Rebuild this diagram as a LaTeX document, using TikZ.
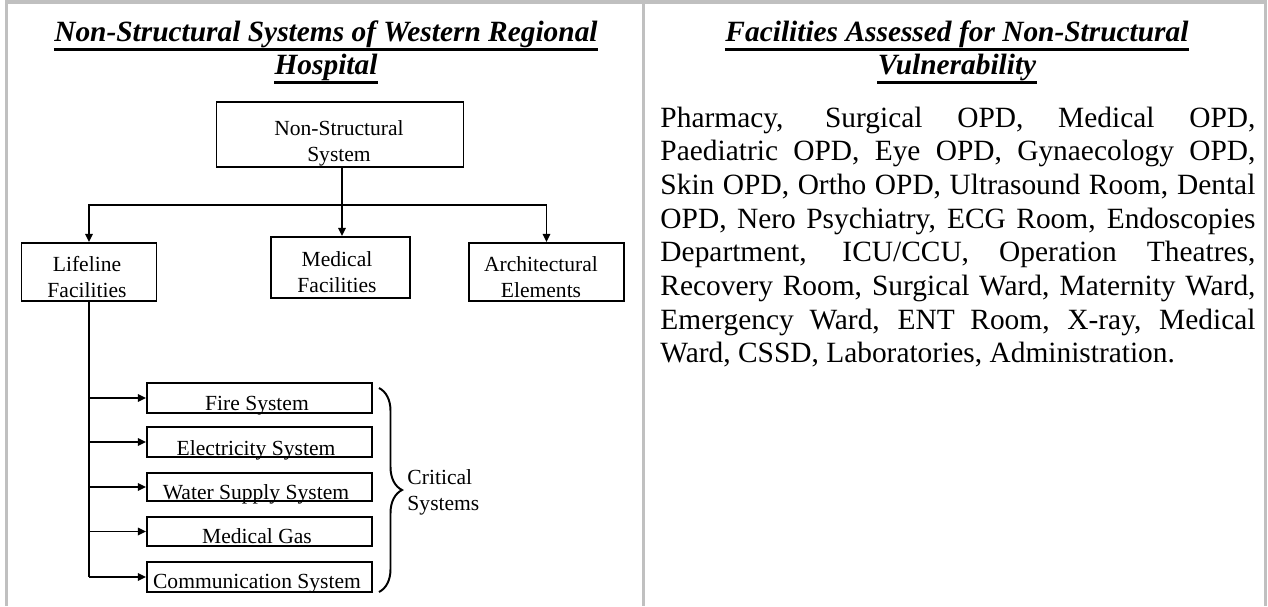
\documentclass[tikz,border=0pt]{standalone}
\usepackage{fontspec}
\setmainfont{Liberation Serif}
\usetikzlibrary{arrows.meta,decorations.pathreplacing}
\definecolor{framegray}{RGB}{192,192,192}
\def\u{0.4082pt}
\begin{document}
\begin{tikzpicture}[x=0.4082pt,y=-0.4082pt,
  frame/.style={draw=framegray, line width=1.25pt},
  box/.style={draw, line width=0.8pt, inner sep=0pt},
  lbl/.style={font=\fontsize{8.8}{10}\selectfont, inner sep=0pt, anchor=base},
  ttl/.style={font=\fontsize{12}{14}\selectfont\bfseries\itshape, inner sep=0pt, anchor=base},
  body/.style={font=\fontsize{12}{13.75}\selectfont, text width=595*\u, align=justify, inner sep=0pt},
  uline/.style={line width=0.9pt},
  conn/.style={line width=0.8pt},
  arr/.style={conn, -{Triangle[length=3.3pt,width=3pt]}},
  bracestyle/.style={line width=0.8pt, decorate, decoration={brace, amplitude=9.4pt, aspect=0.5}},
]
\useasboundingbox (0,0) rectangle (1268,606);

% table frame
\draw[frame] (5,2) -- (1267,2);
\draw[frame] (6.5,0.5) -- (6.5,606);
\draw[frame] (643.5,0.5) -- (643.5,606);
\draw[frame] (1265.5,0.5) -- (1265.5,606);

% left title
\node[ttl] (lt1) at (326,41) {Non-Structural Systems of Western Regional};
\node[ttl] (lt2) at (326,74) {Hospital};
\draw[uline] ([yshift=-3.5pt]lt1.base west) -- ([yshift=-3.5pt]lt1.base east);
\draw[uline] ([yshift=-3.5pt]lt2.base west) -- ([yshift=-3.5pt]lt2.base east);

% right title
\node[ttl] (rt1) at (957,41) {Facilities Assessed for Non-Structural};
\node[ttl] (rt2) at (957,74) {Vulnerability};
\draw[uline] ([yshift=-3.5pt]rt1.base west) -- ([yshift=-3.5pt]rt1.base east);
\draw[uline] ([yshift=-3.5pt]rt2.base west) -- ([yshift=-3.5pt]rt2.base east);

% right body text
\node[body, anchor=base west] (list) at (660,127) {\parindent=0pt\hyphenpenalty=10000\tolerance=10000
Pharmacy, Surgical OPD, Medical OPD,\linebreak
Paediatric OPD, Eye OPD, Gynaecology OPD,\linebreak
Skin OPD, Ortho OPD, Ultrasound Room, Dental\linebreak
OPD, Nero Psychiatry, ECG Room, Endoscopies\linebreak
Department, ICU/CCU, Operation Theatres,\linebreak
Recovery Room, Surgical Ward, Maternity Ward,\linebreak
Emergency Ward, ENT Room, X-ray, Medical\linebreak
Ward, CSSD, Laboratories, Administration.};

% diagram boxes
\node[box, minimum width=247*\u, minimum height=65*\u] (nss) at (340,134.5) {};
\node[box, minimum width=135*\u, minimum height=58*\u] (life) at (89,272) {};
\node[box, minimum width=139*\u, minimum height=61*\u] (med) at (340.5,267.5) {};
\node[box, minimum width=155*\u, minimum height=58*\u] (arch) at (546.5,272) {};
\node[box, minimum width=225*\u, minimum height=30*\u] (fire) at (259.5,398) {};
\node[box, minimum width=225*\u, minimum height=30*\u] (elec) at (259.5,442) {};
\node[box, minimum width=225*\u, minimum height=28*\u] (water) at (259.5,487) {};
\node[box, minimum width=225*\u, minimum height=29*\u] (gas) at (259.5,531.5) {};
\node[box, minimum width=225*\u, minimum height=30*\u] (comm) at (259.5,577) {};

% box labels
\node[lbl] (nssa) at (339,135) {Non-Structural};
\node[lbl] (nssb) at (339,161) {System};
\node[lbl] (lifea) at (87,271) {Lifeline};
\node[lbl] (lifeb) at (87,297.5) {Facilities};
\node[lbl] (meda) at (337,266.5) {Medical};
\node[lbl] (medb) at (337,292.5) {Facilities};
\node[lbl] (archa) at (541,271) {Architectural};
\node[lbl] (archb) at (541,297.5) {Elements};
\node[lbl] (firet) at (257,410.5) {Fire System};
\node[lbl] (elect) at (256,455) {Electricity System};
\node[lbl] (watert) at (256,499.5) {Water Supply System};
\node[lbl] (gast) at (257,543) {Medical Gas};
\node[lbl] (commt) at (257,588.5) {Communication System};

% connectors
\coordinate (hub) at (342,205);
\draw[conn] (nss.south -| hub) -- (hub);
\draw[arr] (hub) -| (life.north);
\draw[arr] (hub) -- (med.north -| hub);
\draw[arr] (hub) -| (arch.north);
\draw[conn] (life.south) -- (life.south |- comm.west);
\draw[arr] (life.south |- fire.west) -- (fire.west);
\draw[arr] (life.south |- elec.west) -- (elec.west);
\draw[arr] (life.south |- water.west) -- (water.west);
\draw[arr] (life.south |- gas.west) -- (gas.west);
\draw[arr] (life.south |- comm.west) -- (comm.west);

% brace and label
\coordinate (bt) at (379,388);
\coordinate (bb) at (379,592);
\draw[bracestyle] (bt) -- (bb);
\node[lbl, anchor=base west] (crita) at (407,484) {Critical};
\node[lbl, anchor=base west] (critb) at (407,510) {Systems};
\end{tikzpicture}
\end{document}
